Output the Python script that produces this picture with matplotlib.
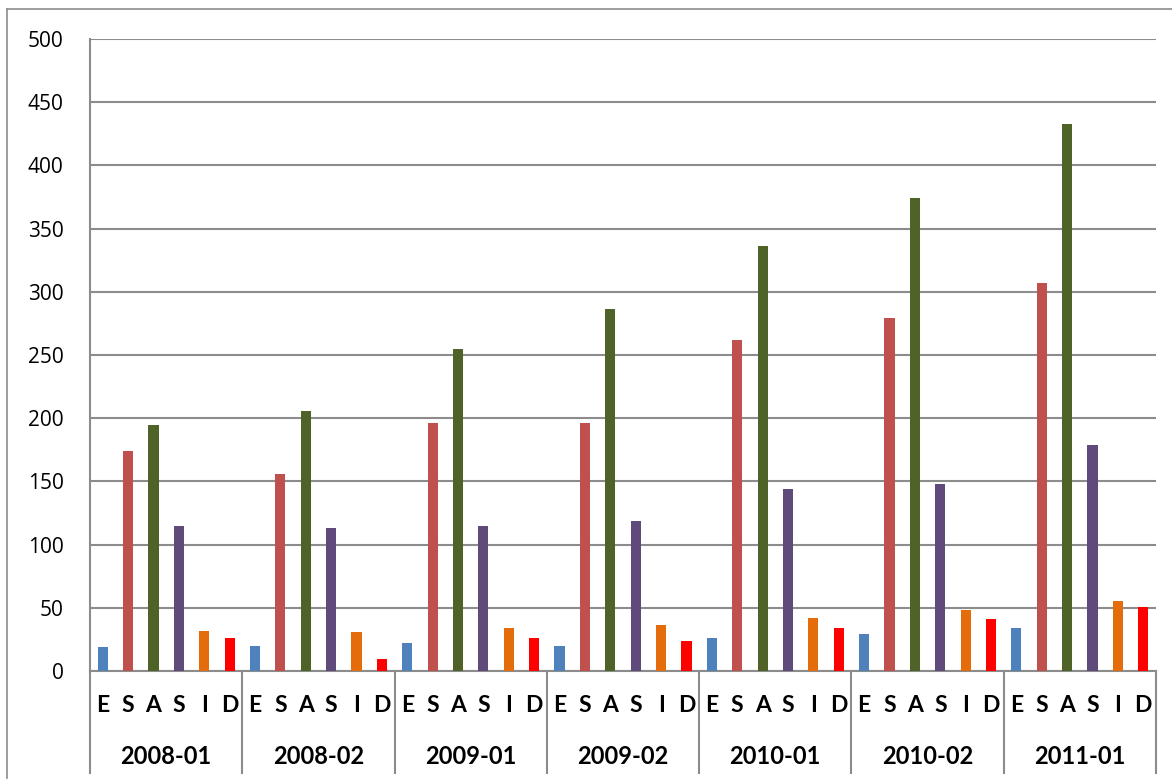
import numpy as np
import matplotlib.pyplot as plt
from matplotlib.lines import Line2D

plt.rcParams['font.family'] = ['Lato', 'DejaVu Sans']

periods = ["2008-01", "2008-02", "2009-01", "2009-02", "2010-01", "2010-02", "2011-01"]
cats = ["E", "S", "A", "S", "I", "D"]
cat_colors = ["#4F81BD", "#C0504D", "#4F6228", "#604A7B", "#E46C0A", "#FF0000"]

# one row per period, columns E S A S I D
vals = [
    [19, 174, 195, 115, 32, 26],
    [20, 156, 206, 113, 31, 9.5],
    [22, 196, 255, 115, 34, 26],
    [20, 196, 286, 119, 36, 24],
    [26, 262, 336, 144, 42, 34],
    [29, 279, 374, 148, 48, 41],
    [34, 307, 433, 179, 55, 51],
]

W, H = 1172, 781
fig = plt.figure(figsize=(W / 100, H / 100), dpi=100)
ax = fig.add_axes([90 / W, (H - 671) / H, 1066 / W, 632 / H])

ncat = len(cats)
for g, row in enumerate(vals):
    x = g * ncat + np.arange(ncat)
    ax.bar(x, row, width=0.4, color=cat_colors, zorder=3)

ax.set_xlim(-0.5, len(periods) * ncat - 0.5)
ax.set_ylim(0, 500)
ax.set_yticks(np.arange(0, 501, 50))
ax.tick_params(axis='y', length=0, labelsize=15, pad=19)
for lab in ax.get_yticklabels():
    lab.set_fontfamily(['Open Sans', 'DejaVu Sans'])
ax.set_xticks([])
ax.grid(axis='y', color='#8c8c8c', linewidth=1.5, zorder=0)
for s in ['top', 'right']:
    ax.spines[s].set_visible(False)
ax.spines['left'].set_color('#8c8c8c')
ax.spines['left'].set_linewidth(1.5)
ax.spines['bottom'].set_color('#8c8c8c')
ax.spines['bottom'].set_linewidth(1.5)

trans = ax.get_xaxis_transform()
sep_bottom = -(773 - 671) / 632
for g in range(len(periods) + 1):
    xs = g * ncat - 0.5
    ax.add_line(Line2D([xs, xs], [0, sep_bottom], transform=trans, color='#8c8c8c',
                       linewidth=1.5, clip_on=False))
for g, p in enumerate(periods):
    for i, c in enumerate(cats):
        ax.text(g * ncat + i, -(705 - 671) / 632, c, transform=trans, ha='center',
                va='center', fontsize=16.5, fontweight='bold')
    ax.text(g * ncat + (ncat - 1) / 2, -(756 - 671) / 632, p, transform=trans,
            ha='center', va='center', fontsize=17, fontweight='bold')

# outer chart border
fig.add_artist(Line2D([7 / W, 7 / W], [1 - 9 / H, 1 - 778 / H], transform=fig.transFigure,
                      color='#8c8c8c', linewidth=1.2))
fig.add_artist(Line2D([7 / W, 1], [1 - 9 / H, 1 - 9 / H], transform=fig.transFigure,
                      color='#8c8c8c', linewidth=1.2))

fig.savefig("out.png", dpi=100)
